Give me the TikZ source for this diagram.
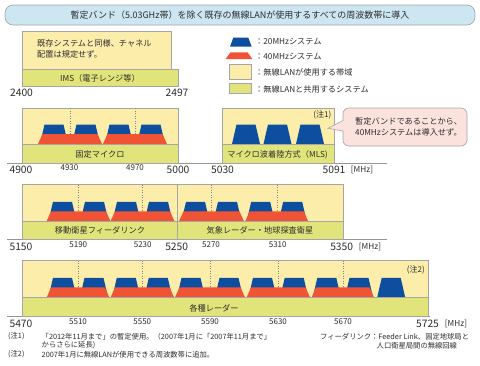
\documentclass[tikz,border=0pt]{standalone}
\usepackage{fontspec}
\setmainfont{Noto Sans CJK JP}
\definecolor{ylwc}{RGB}{252,237,170}
\definecolor{grnc}{RGB}{224,228,122}
\definecolor{bluc}{RGB}{14,78,158}
\definecolor{orgc}{RGB}{240,84,52}
\definecolor{ttlc}{RGB}{204,230,242}
\definecolor{pnkc}{RGB}{251,226,220}
\definecolor{gryc}{RGB}{165,165,165}
\definecolor{axc}{RGB}{150,150,150}
\definecolor{txtc}{RGB}{45,45,45}
\newcommand\bluetrap[2]{\fill[bluc] (#1-14,#2) -- (#1-9.5,#2-19.5) -- (#1+9.5,#2-19.5) -- (#1+14,#2) -- cycle;}
\newcommand\orgtrap[3]{\fill[orgc] (#1-#3,#2) -- (#1-#3+4.5,#2-10) -- (#1+#3-4.5,#2-10) -- (#1+#3,#2) -- cycle;}
\tikzset{
  ylw/.style={fill=ylwc, draw=gryc, line width=0.6pt},
  grn/.style={fill=grnc, draw=gryc, line width=0.6pt},
  dotl/.style={draw=gryc!80!black, dotted, line width=0.5pt},
  axis/.style={draw=axc, line width=1pt},
  big/.style={font=\fontsize{10.3}{10}\selectfont, text=txtc, inner sep=0pt},
  small/.style={font=\fontsize{8}{8}\selectfont, text=txtc, inner sep=0pt},
  lbl/.style={font=\fontsize{8.2}{9}\selectfont, text=txtc, inner sep=0pt},
  note/.style={font=\fontsize{7.3}{8}\selectfont, text=txtc, inner sep=0pt},
}
\begin{document}
\begin{tikzpicture}[x=1pt,y=-1pt]
\useasboundingbox (0,0) rectangle (480,365);
\fill[white] (0,0) rectangle (480,365);
% title
\draw[fill=ttlc, draw=gryc, line width=0.6pt, rounded corners=8] (5,5) rectangle (475,25);
\node[font=\fontsize{9}{9}\selectfont, text=txtc, inner sep=0pt] (title) at (240,15) {暫定バンド（5.03GHz帯）を除く既存の無線LANが使用するすべての周波数帯に導入};

% 2.4 GHz panel
\draw[ylw] (22,31) rectangle (171,69);
\draw[grn] (22,69) rectangle (178,86);
\node[lbl, anchor=west] (p0a) at (37,43.5) {既存システムと同様、チャネル};
\node[lbl, anchor=west] (p0b) at (37,54) {配置は規定せず。};
\node[lbl] (ims) at (100,78) {IMS（電子レンジ等）};
\node[big] (n2400) at (21.5,92.5) {2400};
\node[big] (n2497) at (177,92.5) {2497};

% legend
\fill[bluc] (230,46.7) -- (233.3,37.7) -- (248.3,37.7) -- (251.7,46.7) -- cycle;
\fill[orgc] (225.7,59) -- (230.5,52.3) -- (247.5,52.3) -- (252.3,59) -- cycle;
\draw[ylw] (229.3,64.3) rectangle (251.7,79);
\draw[grn] (229.3,83.3) rectangle (251.7,93.3);
\node[lbl, anchor=west] (lg1) at (255,41.5) {：20MHzシステム};
\node[lbl, anchor=west] (lg2) at (255,57) {：40MHzシステム};
\node[lbl, anchor=west] (lg3) at (255,72) {：無線LANが使用する帯域};
\node[lbl, anchor=west] (lg4) at (255,89) {：無線LANと共用するシステム};

% row 1 : 4.9 GHz + MLS
\draw[axis] (7,163.3) -- (387,163.3);
\draw[ylw] (22,108) rectangle (178,144);
\draw[dotl] (70.7,108) -- (70.7,144);
\draw[dotl] (135.7,108) -- (135.7,144);
\bluetrap{54}{144}\bluetrap{86}{144}\bluetrap{119}{144}\bluetrap{151}{144}
\orgtrap{70}{144}{32}\orgtrap{135}{144}{32}
\draw[grn] (22,144) rectangle (178,163);
\node[lbl] (fixed) at (100,154.5) {固定マイクロ};

\draw[ylw] (222,108) rectangle (334,144);
\bluetrap{246}{144}\bluetrap{277.5}{144}\bluetrap{310}{144}
\draw[grn] (222,144) rectangle (334,163);
\node[lbl] (mls) at (277.5,155) {マイクロ波着陸方式（MLS)};
\node[small, anchor=east] (note1) at (331.5,114.5) {(注1)};

\draw[fill=pnkc, draw=gryc, line width=0.6pt, rounded corners=6] (343,108) rectangle (467,146);
\fill[pnkc] (343.8,120.5) -- (328,128.3) -- (343.8,131) -- cycle;
\draw[gryc, line width=0.6pt] (343,120.5) -- (328,128.3) -- (343,131);
\node[lbl, anchor=west] (co1) at (355,121) {暫定バンドであることから、};
\node[lbl, anchor=west] (co2) at (355,132) {40MHzシステムは導入せず。};

\node[big] (n4900) at (21,169.5) {4900};
\node[small] (n4930) at (69.5,168) {4930};
\node[small] (n4970) at (135,168) {4970};
\node[big] (n5000) at (178,169.5) {5000};
\node[big] (n5030) at (222.5,169.5) {5030};
\node[big] (n5091) at (334,169.5) {5091};
\node[lbl] (mhz1) at (362,169.5) {[MHz]};

% row 2 : 5.2 GHz
\draw[axis] (7,239.3) -- (387,239.3);
\draw[ylw] (22,184.7) rectangle (177,221.3);
\draw[ylw] (177,184.7) rectangle (343,221.3);
\draw[dotl] (78.3,184.7) -- (78.3,221.3);
\draw[dotl] (142.5,184.7) -- (142.5,221.3);
\draw[dotl] (211,184.7) -- (211,221.3);
\draw[dotl] (277.7,184.7) -- (277.7,221.3);
\bluetrap{62.5}{221.3}\bluetrap{94.5}{221.3}\bluetrap{126.5}{221.3}\bluetrap{158.5}{221.3}
\bluetrap{195.5}{221.3}\bluetrap{227.5}{221.3}\bluetrap{260.7}{221.3}\bluetrap{292.7}{221.3}
\orgtrap{78.5}{221.3}{32}\orgtrap{142.5}{221.3}{32}\orgtrap{211.5}{221.3}{32.5}\orgtrap{276.7}{221.3}{31.5}
\draw[grn] (22,221.3) rectangle (177,239);
\draw[grn] (177,221.3) rectangle (343,239);
\node[lbl] (mss) at (100,230.5) {移動衛星フィーダリンク};
\node[lbl] (wx) at (260,230.5) {気象レーダー・地球探査衛星};

\node[big] (n5150) at (21,246.5) {5150};
\node[small] (n5190) at (78.3,245) {5190};
\node[small] (n5230) at (142.7,245) {5230};
\node[big] (n5250) at (176.7,246.5) {5250};
\node[small] (n5270) at (211,245) {5270};
\node[small] (n5310) at (277.7,245) {5310};
\node[big] (n5350) at (341.7,246.5) {5350};
\node[lbl] (mhz2) at (370,246.5) {[MHz]};

% row 3 : 5.6 GHz
\draw[axis] (7,316.3) -- (430,316.3);
\draw[ylw] (22,260.7) rectangle (428,297.3);
\draw[dotl] (78,260.7) -- (78,297.3);
\draw[dotl] (142.3,260.7) -- (142.3,297.3);
\draw[dotl] (210,260.7) -- (210,297.3);
\draw[dotl] (278,260.7) -- (278,297.3);
\draw[dotl] (343,260.7) -- (343,297.3);
\bluetrap{62.5}{297.3}\bluetrap{94}{297.3}\bluetrap{126.3}{297.3}\bluetrap{158.3}{297.3}
\bluetrap{191}{297.3}\bluetrap{229}{297.3}\bluetrap{262.5}{297.3}\bluetrap{294.2}{297.3}
\bluetrap{326.8}{297.3}\bluetrap{359}{297.3}\bluetrap{391.2}{297.3}
\orgtrap{78}{297.3}{31.3}\orgtrap{142.3}{297.3}{31.7}\orgtrap{210}{297.3}{35}\orgtrap{278.3}{297.3}{31.7}\orgtrap{342.8}{297.3}{31.2}
\draw[grn] (22,297.3) rectangle (428,316);
\node[lbl] (radar) at (214,308) {各種レーダー};
\node[small, anchor=east] (note2) at (425,269.5) {(注2)};

\node[big] (n5470) at (21,323.5) {5470};
\node[small] (n5510) at (78,322) {5510};
\node[small] (n5550) at (142.3,322) {5550};
\node[small] (n5590) at (210,322) {5590};
\node[small] (n5630) at (278,322) {5630};
\node[small] (n5670) at (343,322) {5670};
\node[big] (n5725) at (427.5,323.5) {5725};
\node[lbl] (mhz3) at (456,323.5) {[MHz]};

% footnotes
\node[note, anchor=west] (fn1a) at (8,336.5) {(注1)};
\node[note, anchor=west] (fn1b) at (41.5,336.5) {「2012年11月まで」の暫定使用。（2007年1月に「2007年11月まで」};
\node[note, anchor=west] (fn1c) at (41.5,345.5) {からさらに延長)};
\node[note, anchor=west] (fn2a) at (8,354.5) {(注2)};
\node[note, anchor=west] (fn2b) at (41.5,354.5) {2007年1月に無線LANが使用できる周波数帯に追加。};
\node[note, anchor=west] (fr1) at (320,337) {フィーダリンク：Feeder Link、固定地球局と};
\node[note, anchor=west] (fr2) at (376.5,346) {人口衛星局間の無線回線};
\end{tikzpicture}
\end{document}
